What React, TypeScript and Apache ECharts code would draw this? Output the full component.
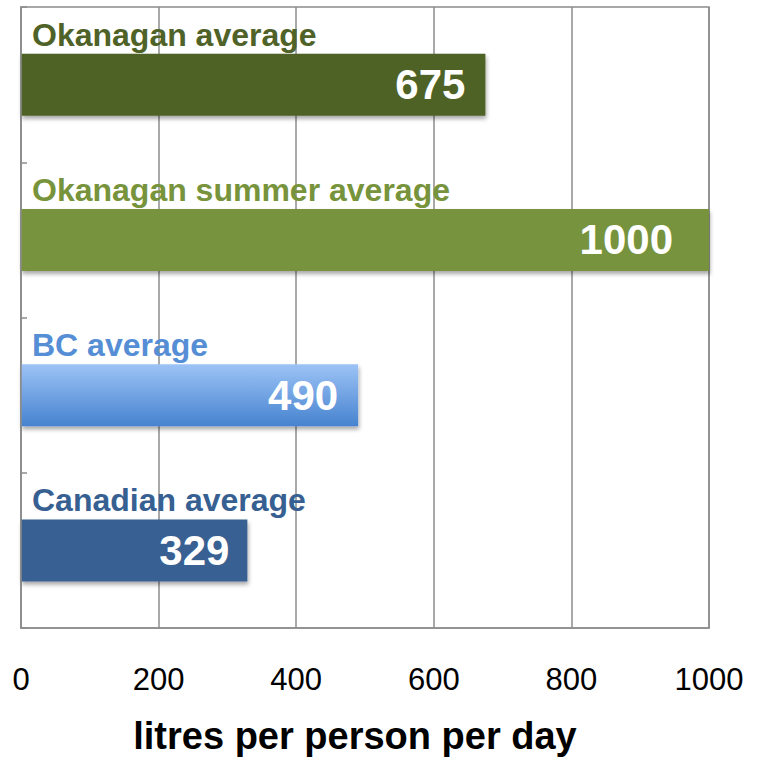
import React, { useEffect, useRef } from "react";
import * as echarts from "echarts";

const categories = ["Okanagan average", "Okanagan summer average", "BC average", "Canadian average"];
const values = [675, 1000, 490, 329];
const labelColors = ["#4f6228", "#77933c", "#558ed5", "#376092"];
const xTicks = [0, 200, 400, 600, 800, 1000];
const axisTitle = "litres per person per day";

export default function App() {
  const ref = useRef<HTMLDivElement>(null);
  useEffect(() => {
    if (!ref.current) return;
    const chart = echarts.init(ref.current, undefined, { renderer: "svg" });
    const barColors: any[] = [
      "#4f6228",
      "#77933c",
      new echarts.graphic.LinearGradient(0, 0, 0, 1, [
        { offset: 0, color: "#9dc3f6" },
        { offset: 1, color: "#4683cf" },
      ]),
      "#376092",
    ];
    const labelDistances = [20, 36, 20, 18];
    const rich: any = {};
    labelColors.forEach((c, i) => {
      rich["c" + i] = {
        color: c,
        fontSize: 32,
        fontWeight: "bold",
        fontFamily: "Liberation Sans, Arial, sans-serif",
        padding: [0, 0, 100, 0],
      };
    });
    chart.setOption({
      animation: false,
      backgroundColor: "#ffffff",
      grid: {
        left: 21,
        right: 52,
        top: 7,
        bottom: 130,
        show: true,
        borderColor: "#8c8c8c",
        borderWidth: 1.5,
        backgroundColor: "transparent",
      },
      xAxis: {
        type: "value",
        min: 0,
        max: 1000,
        interval: 200,
        name: axisTitle,
        nameLocation: "middle",
        nameGap: 89,
        nameTextStyle: {
          color: "#000",
          fontSize: 38,
          fontWeight: "bold",
          fontFamily: "Liberation Sans, Arial, sans-serif",
          padding: [0, 20, 0, 0],
        },
        axisLine: { show: true, lineStyle: { color: "#8c8c8c", width: 1.5 } },
        axisTick: { show: false },
        splitLine: { show: true, lineStyle: { color: "#8c8c8c", width: 1.5 } },
        axisLabel: {
          margin: 36,
          color: "#000",
          fontSize: 31,
          fontFamily: "Liberation Sans Narrow, Liberation Sans, Arial, sans-serif",
          formatter: (v: number) => (xTicks.includes(v) ? String(v) : ""),
        },
      },
      yAxis: {
        type: "category",
        data: categories,
        inverse: true,
        axisLine: { show: true, lineStyle: { color: "#8c8c8c", width: 1.5 } },
        axisTick: { show: true, inside: true, length: 6, lineStyle: { color: "#8c8c8c", width: 1.5 } },
        splitLine: { show: false },
        axisLabel: {
          inside: true,
          margin: 11,
          align: "left",
          verticalAlign: "middle",
          formatter: (v: string, i: number) => `{c${i}|${v}}`,
          rich,
        },
        z: 10,
      },
      series: [
        {
          type: "bar",
          barWidth: 62,
          data: values.map((v, i) => ({
            value: v,
            itemStyle: {
              color: barColors[i],
              shadowColor: "rgba(0,0,0,0.35)",
              shadowBlur: 4,
              shadowOffsetX: 1,
              shadowOffsetY: 3,
            },
            label: { distance: labelDistances[i] },
          })),
          label: {
            show: true,
            position: "insideRight",
            color: "#fff",
            fontSize: 42,
            fontWeight: "bold",
            fontFamily: "Liberation Sans, Arial, sans-serif",
          },
        },
      ],
    });
    return () => chart.dispose();
  }, []);
  return (
    <div
      ref={ref}
      style={{ position: "fixed", left: 0, top: 0, width: 761, height: 760, background: "#fff" }}
    />
  );
}
